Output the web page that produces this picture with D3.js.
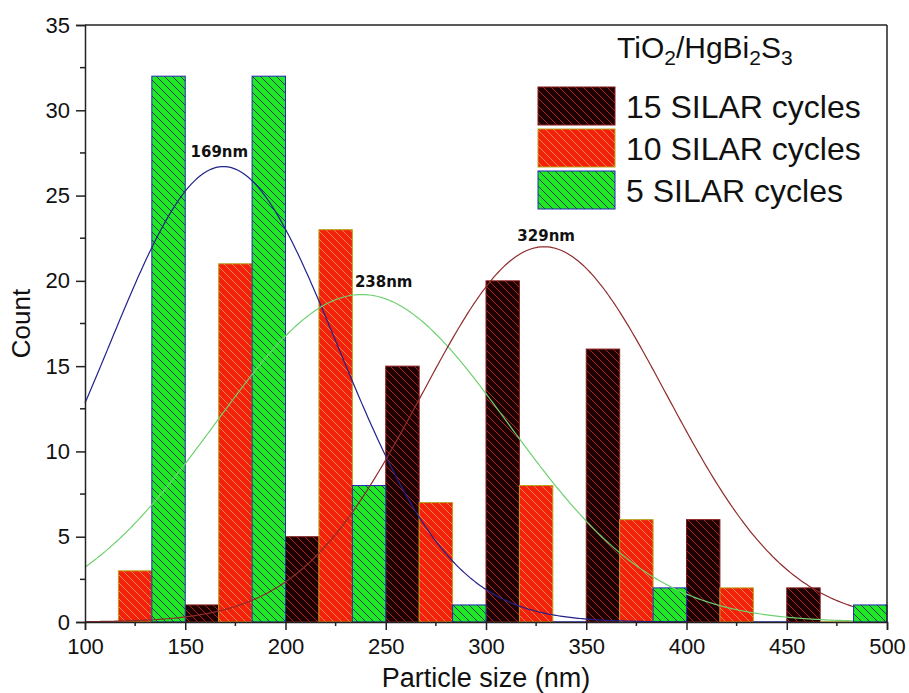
<!DOCTYPE html>
<html>
<head>
<meta charset="utf-8">
<script src="https://cdn.jsdelivr.net/npm/d3@7/dist/d3.min.js"></script>
<style>
  html, body { margin: 0; padding: 0; background: #fff; }
  svg { display: block; }
  text { font-family: "Liberation Sans", Arial, sans-serif; fill: #111; }
</style>
</head>
<body>
<svg id="chart" width="909" height="693"></svg>
<script>
// Histogram groups (bin-group centres, nm) and counts per deposition series
const groupCenters = [125, 175, 225, 275, 325, 375, 425, 475];
const groupWidth = 50;
const seriesNames = ["15 SILAR cycles", "10 SILAR cycles", "5 SILAR cycles"];
const counts15 = [0, 1, 5, 15, 20, 16, 6, 2];
const counts10 = [3, 21, 23, 7, 8, 6, 2, 0];
const counts5  = [32, 32, 8, 1, 0, 2, 0, 1];

// Gaussian fits: centre (nm), peak height (count), sigma (nm), drawn range
const fitCenters = [169, 238, 329];
const fitPeaks   = [26.7, 19.2, 22.0];
const fitSigmas  = [57, 73, 61];
const fitRanges  = [[100, 400], [100, 483], [100, 483]];
const fitLabels  = ["169nm", "238nm", "329nm"];

// Axis ticks
const xTicks = [100, 150, 200, 250, 300, 350, 400, 450, 500];
const yTicks = [0, 5, 10, 15, 20, 25, 30, 35];

const svg = d3.select("#chart");
const margin = { left: 85, right: 22, top: 25, bottom: 71 };
const W = 909, H = 693;

const x = d3.scaleLinear().domain([100, 500]).range([margin.left, W - margin.right]);
const y = d3.scaleLinear().domain([0, 35]).range([H - margin.bottom, margin.top]);
const sub = d3.scaleBand().domain([0, 1, 2]).range([0, groupWidth]);

// series styling: fill, border, hatch colour
const styles = [
  { fill: "#1c0202", stroke: "#8a1a1a", hatch: "#b02424" },
  { fill: "#f2200c", stroke: "#b8a21a", hatch: "#f08a3c" },
  { fill: "#20e824", stroke: "#2626b8", hatch: "#1c3c5c" }
];
const fitColors = ["#22228a", "#6fd06f", "#8e2c2c"];

// hatch patterns
const defs = svg.append("defs");
styles.forEach((s, i) => {
  const p = defs.append("pattern")
    .attr("id", "hatch" + i)
    .attr("patternUnits", "userSpaceOnUse")
    .attr("width", 8).attr("height", 8);
  p.append("rect").attr("width", 8).attr("height", 8).attr("fill", s.fill);
  p.append("path")
    .attr("d", "M0,0 L8,8 M-4,4 L4,12 M4,-4 L12,4")
    .attr("stroke", s.hatch).attr("stroke-width", 1);
});

// bars
const seriesCounts = [counts15, counts10, counts5];
const barLayer = svg.append("g");
seriesCounts.forEach((vals, si) => {
  groupCenters.forEach((c, gi) => {
    const x0 = x(c - groupWidth / 2 + sub(si));
    const x1 = x(c - groupWidth / 2 + sub(si) + sub.bandwidth());
    const v = vals[gi];
    if (v > 0) {
      barLayer.append("rect")
        .attr("x", x0).attr("y", y(v))
        .attr("width", x1 - x0).attr("height", y(0) - y(v))
        .attr("fill", "url(#hatch" + si + ")")
        .attr("stroke", styles[si].stroke).attr("stroke-width", 1);
    } else {
      barLayer.append("line")
        .attr("x1", x0).attr("x2", x1).attr("y1", y(0)).attr("y2", y(0))
        .attr("stroke", styles[si].stroke).attr("stroke-width", 1.5);
    }
  });
});

// Gaussian fit curves
const gauss = (xv, i) => fitPeaks[i] * Math.exp(-((xv - fitCenters[i]) ** 2) / (2 * fitSigmas[i] ** 2));
const line = d3.line().x(d => x(d[0])).y(d => y(d[1])).curve(d3.curveLinear);
fitCenters.forEach((c, i) => {
  const pts = d3.range(fitRanges[i][0], fitRanges[i][1] + 0.5, 1).map(v => [v, gauss(v, i)]);
  svg.append("path").datum(pts)
    .attr("d", line).attr("fill", "none")
    .attr("stroke", fitColors[i]).attr("stroke-width", 1.2);
});

// peak labels
const labelOffsets = [[-4, 10], [22, 8], [2, 6]];
fitCenters.forEach((c, i) => {
  svg.append("text")
    .attr("x", x(c) + labelOffsets[i][0])
    .attr("y", y(fitPeaks[i]) - labelOffsets[i][1])
    .attr("text-anchor", "middle")
    .style("font-family", "'DejaVu Sans', Verdana, sans-serif")
    .style("font-weight", "bold")
    .style("font-size", "15px")
    .text(fitLabels[i]);
});

// frame
const frame = svg.append("g").attr("stroke", "#222").attr("stroke-width", 1.5).attr("fill", "none");
frame.append("line").attr("x1", x(100)).attr("x2", x(500)).attr("y1", y(35)).attr("y2", y(35));
frame.append("line").attr("x1", x(500)).attr("x2", x(500)).attr("y1", y(35)).attr("y2", y(0));

// axes
const xAxis = d3.axisBottom(x).tickValues(xTicks).tickSize(8).tickPadding(8);
const yAxis = d3.axisLeft(y).tickValues(yTicks).tickSize(9).tickPadding(6);
const gx = svg.append("g").attr("transform", `translate(0,${y(0)})`).call(xAxis);
const gy = svg.append("g").attr("transform", `translate(${x(100)},0)`).call(yAxis);
[gx, gy].forEach(g => {
  g.select(".domain").attr("stroke", "#222").attr("stroke-width", 1.5);
  g.selectAll(".tick line").attr("stroke", "#222").attr("stroke-width", 1.5);
  g.selectAll(".tick text").style("font-size", "22px").style("font-family", "'Liberation Sans', Arial, sans-serif").attr("fill", "#111");
});
// minor ticks
const xMinor = d3.range(125, 500, 50);
const yMinor = d3.range(2.5, 35, 5);
svg.append("g").selectAll("line").data(xMinor).join("line")
  .attr("x1", d => x(d)).attr("x2", d => x(d)).attr("y1", y(0)).attr("y2", y(0) + 4)
  .attr("stroke", "#222").attr("stroke-width", 1.5);
svg.append("g").selectAll("line").data(yMinor).join("line")
  .attr("x1", x(100) - 5).attr("x2", x(100)).attr("y1", d => y(d)).attr("y2", d => y(d))
  .attr("stroke", "#222").attr("stroke-width", 1.5);

// axis titles
svg.append("text")
  .attr("x", (x(100) + x(500)) / 2).attr("y", 687)
  .attr("text-anchor", "middle").style("font-size", "27px")
  .text("Particle size (nm)");
svg.append("text")
  .attr("transform", `translate(30,${(y(0) + y(35)) / 2}) rotate(-90)`)
  .attr("text-anchor", "middle").style("font-size", "26px")
  .text("Count");

// legend
const lg = svg.append("g");
const title = lg.append("text").attr("x", 617).attr("y", 58).style("font-size", "30px");
[["TiO", null], ["2", "sub"], ["/HgBi", null], ["2", "sub"], ["S", null], ["3", "sub"]].forEach(([t, k]) => {
  const ts = title.append("tspan").text(t);
  if (k === "sub") ts.attr("dy", 7).style("font-size", "21px");
  else ts.attr("dy", title.selectAll("tspan").size() > 1 ? -7 : 0);
});
seriesNames.forEach((name, i) => {
  const top = 87 + i * 42;
  lg.append("rect")
    .attr("x", 538).attr("y", top).attr("width", 77).attr("height", 38)
    .attr("fill", "url(#hatch" + i + ")")
    .attr("stroke", styles[i].stroke).attr("stroke-width", 1);
  lg.append("text").attr("x", 626).attr("y", top + 31)
    .style("font-size", "32px").text(name);
});
</script>
</body>
</html>
